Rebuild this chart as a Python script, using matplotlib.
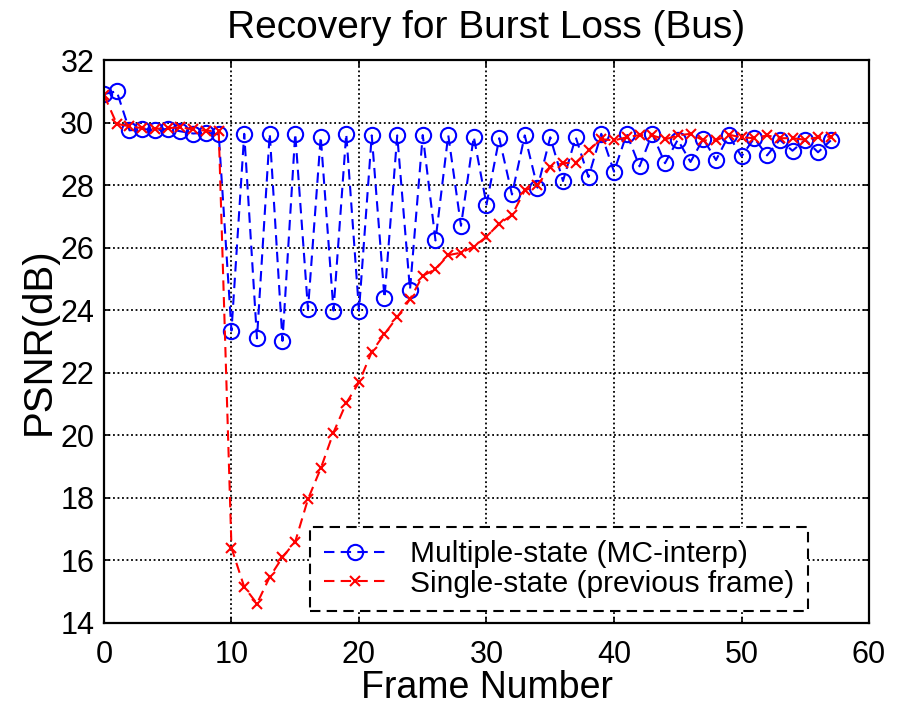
import numpy as np
import matplotlib
matplotlib.use("Agg")
import matplotlib.pyplot as plt

plt.rcParams['font.family'] = ['Liberation Sans', 'DejaVu Sans']

frames = np.arange(58)

# PSNR of the multiple-state coder (MC-interp)
multi_state = [30.91, 31.0, 29.75, 29.8, 29.75, 29.8, 29.72, 29.65, 29.68, 29.62,
               23.35, 29.64, 23.1, 29.65, 23.02, 29.65, 24.03, 29.55, 23.99, 29.64,
               23.99, 29.59, 24.39, 29.59, 24.65, 29.6, 26.23, 29.6, 26.7, 29.55,
               27.38, 29.5, 27.7, 29.59, 27.92, 29.53, 28.13, 29.53, 28.26, 29.64,
               28.43, 29.64, 28.6, 29.64, 28.7, 29.45, 28.74, 29.48, 28.8, 29.59,
               28.92, 29.5, 28.95, 29.45, 29.1, 29.45, 29.05, 29.43]

# PSNR of the single-state coder (previous frame)
single_state = [30.88, 29.96, 29.88, 29.82, 29.8, 29.82, 29.85, 29.78, 29.74, 29.72,
                16.4, 15.15, 14.62, 15.47, 16.1, 16.6, 17.96, 18.94, 20.09, 21.03,
                21.69, 22.67, 23.24, 23.78, 24.35, 25.1, 25.31, 25.76, 25.84, 26.03,
                26.35, 26.77, 27.04, 27.83, 27.99, 28.58, 28.7, 28.72, 29.11, 29.47,
                29.43, 29.53, 29.6, 29.59, 29.46, 29.59, 29.64, 29.43, 29.43, 29.61,
                29.53, 29.5, 29.59, 29.5, 29.5, 29.45, 29.53, 29.55]

fig = plt.figure(figsize=(9.01, 7.06), dpi=100)
ax = fig.add_axes([0.1154, 0.1176, 0.8491, 0.7974])

ax.plot(frames, multi_state, color='blue', linestyle=(0, (5, 3)), linewidth=1.5,
        marker='o', markersize=11, markerfacecolor='none', markeredgewidth=1.5,
        label='Multiple-state (MC-interp)')
ax.plot(frames, single_state, color='red', linestyle=(0, (5, 3)), linewidth=1.5,
        marker='x', markersize=7, markeredgewidth=1.5,
        label='Single-state (previous frame)')

ax.set_xlim(0, 60)
ax.set_ylim(14, 32)
ax.set_xticks(np.arange(0, 61, 10))
ax.set_yticks(np.arange(14, 33, 2))
ax.grid(True, color='black', linestyle=(0, (1, 1.5)), linewidth=1.3)
ax.tick_params(direction='in', top=True, right=True, length=4, width=1.2,
               labelsize=22)
ax.tick_params(axis='y', pad=7)
ax.tick_params(axis='x', pad=12)
for s in ax.spines.values():
    s.set_linewidth(1.6)

ax.set_title('Recovery for Burst Loss (Bus)', fontsize=28, pad=16)
ax.set_xlabel('Frame Number', fontsize=27, labelpad=0)
ax.set_ylabel('PSNR(dB)', fontsize=29, labelpad=2)

leg = ax.legend(loc='lower right', bbox_to_anchor=(0.92, 0.021), fontsize=21.5,
                fancybox=False, framealpha=1, edgecolor='black',
                handlelength=2.1, handletextpad=0.8, borderpad=0.45,
                borderaxespad=0, labelspacing=0.05)
leg.get_frame().set_linestyle((0, (5, 3)))
leg.get_frame().set_linewidth(1.5)

fig.savefig('out.png', dpi=100)
